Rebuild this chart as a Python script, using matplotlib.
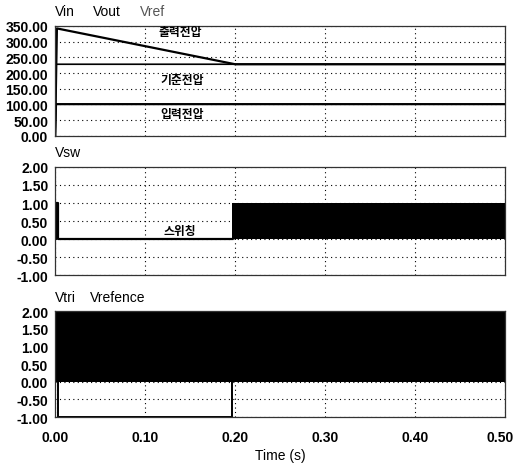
import matplotlib
matplotlib.use('Agg')
import matplotlib.pyplot as plt
import matplotlib.transforms as mtransforms
import numpy as np

plt.rcParams['font.family'] = ['Liberation Sans', 'Noto Sans CJK KR', 'DejaVu Sans']

# 상단: 입력/출력/기준 전압
t_vout = [0.0, 0.002, 0.2, 0.5]
vout = [0.0, 342.0, 228.0, 228.0]
t_vin = [0.0, 0.001, 0.5]
vin = [0.0, 101.0, 101.0]
t_vref = [0.0, 0.001, 0.5]
vref = [0.0, 228.0, 228.0]

# 중단: 스위칭 신호 (고주파 구간은 포락선으로 표시)
t_vsw = [0.0, 0.001, 0.001, 0.003, 0.003, 0.197]
vsw = [0.0, 0.0, 1.0, 1.0, 0.0, 0.0]
t_vsw_band = [0.197, 0.5]
vsw_band_low = [0.0, 0.0]
vsw_band_high = [1.0, 1.0]

# 하단: 삼각파 / 기준신호
t_vtri_band = [0.0, 0.5]
vtri_low = [0.0, 0.0]
vtri_high = [2.0, 2.0]
t_vrefence = [0.003, 0.003, 0.197, 0.197]
vrefence = [0.0, -1.0, -1.0, 0.0]

xticks = [0.0, 0.1, 0.2, 0.3, 0.4, 0.5]

fig = plt.figure(figsize=(5.15, 4.64), dpi=100)
ax1 = fig.add_axes([0.107, 0.705, 0.874, 0.237])
ax2 = fig.add_axes([0.107, 0.405, 0.874, 0.233])
ax3 = fig.add_axes([0.107, 0.099, 0.874, 0.228])


def style_axes(ax, ylim, yticks, show_x=False):
	ax.set_xlim(0, 0.5)
	ax.set_ylim(*ylim)
	ax.set_yticks(yticks)
	ax.set_yticklabels([f'{v:.2f}' for v in yticks])
	ax.set_xticks(xticks)
	if show_x:
		ax.set_xticklabels([f'{v:.2f}' for v in xticks])
	else:
		ax.set_xticklabels([])
	ax.tick_params(length=0, labelsize=10)
	ax.tick_params(axis='y', pad=5)
	ax.tick_params(axis='x', pad=9)
	for lab in ax.get_yticklabels() + ax.get_xticklabels():
		lab.set_fontweight('bold')
	ax.grid(True, color='black', linestyle=(0, (1, 3)), linewidth=0.8)
	for s in ax.spines.values():
		s.set_linewidth(0.9)
		s.set_color('#333333')


style_axes(ax1, (0, 350), [0, 50, 100, 150, 200, 250, 300, 350])
ax1.plot(t_vout, vout, color='black', lw=1.6)
ax1.plot(t_vin, vin, color='black', lw=1.6)
ax1.plot(t_vref, vref, color='black', lw=1.2)
kr = dict(ha='center', va='center', fontsize=8.5, fontweight='bold', family=['Noto Sans CJK KR'])
ax1.text(0.139, 331, '출력전압', **kr)
ax1.text(0.141, 181, '기준전압', **kr)
ax1.text(0.141, 70, '입력전압', **kr)
ax1.text(0.0, 1.07, 'Vin', transform=ax1.transAxes, fontsize=10, va='bottom')
ax1.text(0.084, 1.07, 'Vout', transform=ax1.transAxes, fontsize=10, va='bottom')
ax1.text(0.189, 1.07, 'Vref', transform=ax1.transAxes, fontsize=10, va='bottom', color='#555555')

style_axes(ax2, (-1, 2), [-1.0, -0.5, 0.0, 0.5, 1.0, 1.5, 2.0])
ax2.plot(t_vsw, vsw, color='black', lw=1.6)
ax2.fill_between(t_vsw_band, vsw_band_low, vsw_band_high, color='black', lw=0)
ax2.text(0.139, 0.23, '스위칭', **kr)
ax2.text(0.0, 1.07, 'Vsw', transform=ax2.transAxes, fontsize=10, va='bottom')

style_axes(ax3, (-1, 2), [-1.0, -0.5, 0.0, 0.5, 1.0, 1.5, 2.0], show_x=True)
ax3.fill_between(t_vtri_band, vtri_low, vtri_high, color='black', lw=0)
ax3.plot(t_vrefence, vrefence, color='black', lw=1.4)
ax3.text(0.0, 1.07, 'Vtri', transform=ax3.transAxes, fontsize=10, va='bottom')
ax3.text(0.078, 1.07, 'Vrefence', transform=ax3.transAxes, fontsize=10, va='bottom')
ax3.set_xlabel('Time (s)', fontsize=10, labelpad=3)

# 마지막 눈금 라벨은 그림 안쪽으로 약간 이동
last = ax3.get_xticklabels()[-1]
last.set_transform(last.get_transform() + mtransforms.ScaledTranslation(-5 / 100, 0, fig.dpi_scale_trans))

fig.savefig('out.png', dpi=100)
